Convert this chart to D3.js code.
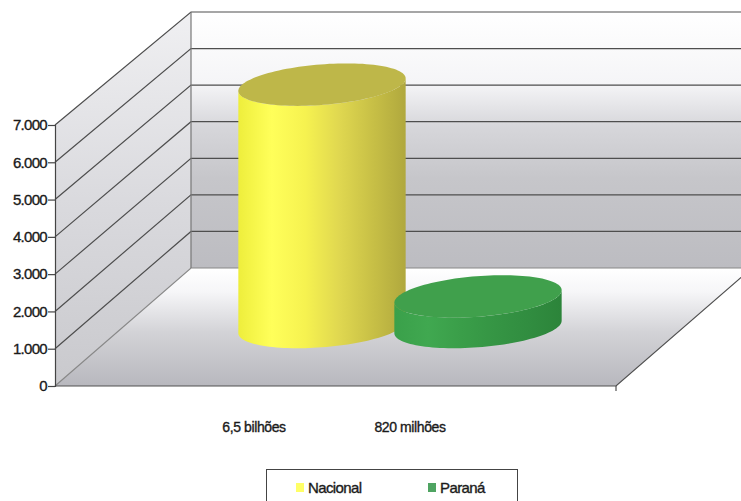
<!DOCTYPE html>
<html><head><meta charset="utf-8">
<script src="https://cdn.jsdelivr.net/npm/d3@7"></script>
<style>html,body{margin:0;padding:0;background:#fff;}svg{display:block;}text{font-family:"Liberation Sans",Arial,sans-serif;}</style>
</head><body>
<script>
// ---- data ----
const categories = ["6,5 bilhões", "820 milhões"];
const seriesNames = ["Nacional", "Paraná"];
const values = [6500, 820];
const yTickValues = [0, 1000, 2000, 3000, 4000, 5000, 6000, 7000];
const yTickLabels = ["0", "1.000", "2.000", "3.000", "4.000", "5.000", "6.000", "7.000"];

const W = 741, H = 501;
const svg = d3.select("body").append("svg").attr("width", W).attr("height", H);
const defs = svg.append("defs");

// geometry
const X0 = 55, X1 = 616, DX = 136, DY = -118;
const yF = d3.scaleLinear().domain([0, 7000]).range([386, 125]);
const yB = d3.scaleLinear().domain([0, 7000]).range([268, 12]);
const xP = d3.scalePoint().domain(categories).range([254, 410]);
const colorBody = [["#eeee3c","#ffff5a","#f6f250","#e0d850","#c8c046","#b0a83e"],
                   ["#3aa04a","#40a850","#3a9e49","#359544","#318d40","#2c843a"]];
const colorTop = ["#beb749", "#40a04c"];
const legendColors = ["#ffff66", "#4fa462"];

function grad(id, x2, y2, stops) {
  const g = defs.append("linearGradient").attr("id", id)
    .attr("x1", 0).attr("y1", 0).attr("x2", x2).attr("y2", y2);
  stops.forEach(s => g.append("stop").attr("offset", s[0]).attr("stop-color", s[1]));
}
grad("gBack", 0, 1, [[0, "#ffffff"], [0.28, "#f5f5f7"], [0.45, "#d6d6da"], [0.65, "#c6c6ca"], [1, "#bcbcc1"]]);
grad("gSide", 0, 1, [[0, "#f0f0f2"], [0.5, "#dadade"], [1, "#c9c9cd"]]);
grad("gFloor", 0, 1, [[0, "#ffffff"], [0.2, "#f6f6f8"], [0.55, "#d2d2d6"], [1, "#b8b8be"]]);
colorBody.forEach((c, i) => grad("gBody" + i, 1, 0, c.map((s, j) => [j / (c.length - 1), s])));

const poly = pts => "M" + pts.map(p => p.join(",")).join("L") + "Z";
const vMax = d3.max(yTickValues), vMin = 0;

// walls
svg.append("path").attr("d", poly([[X0 + DX, yB(vMax)], [X1 + DX, yB(vMax)], [X1 + DX, yB(vMin)], [X0 + DX, yB(vMin)]]))
  .attr("fill", "url(#gBack)");
svg.append("path").attr("d", poly([[X0, yF(vMin)], [X0, yF(vMax)], [X0 + DX, yB(vMax)], [X0 + DX, yB(vMin)]]))
  .attr("fill", "url(#gSide)");
svg.append("path").attr("d", poly([[X0, yF(vMin)], [X1, yF(vMin)], [X1 + DX, yB(vMin)], [X0 + DX, yB(vMin)]]))
  .attr("fill", "url(#gFloor)");

const lineC = "#4e4e4e";
// gridlines
const gl = svg.append("g").attr("stroke", lineC).attr("stroke-width", 1.2).attr("fill", "none");
yTickValues.forEach(v => {
  gl.append("path").attr("d", `M${X0},${yF(v)}L${X0 + DX},${yB(v)}L${X1 + DX},${yB(v)}`)
    .attr("stroke", v === 0 ? "#888" : lineC);
});
// frame lines
gl.append("path").attr("d", `M${X0 + DX},${yB(vMin)}L${X0 + DX},${yB(vMax)}`).attr("stroke", "#777");
gl.append("path").attr("d", `M${X0},${yF(vMin)}L${X1},${yF(vMin)}L${X1 + DX},${yB(vMin)}`).attr("stroke", "#505050");
gl.append("path").attr("d", `M${X1},${yF(vMin)}L${X1},${yF(vMin) + 5}`).attr("stroke", "#505050");

// left axis
const axis = svg.append("g").attr("transform", `translate(${X0},0)`)
  .call(d3.axisLeft(yF).tickValues(yTickValues).tickFormat((d, i) => yTickLabels[i]).tickSize(7).tickPadding(1));
axis.select(".domain").attr("stroke", "#444").attr("stroke-width", 1.2);
axis.selectAll(".tick line").attr("stroke", "#444").attr("stroke-width", 1.2);
axis.selectAll(".tick text").attr("fill", "#1a1a1a").attr("stroke", "#1a1a1a").attr("stroke-width", 0.35)
  .style("font-size", "15px").style("letter-spacing", "-0.7px")
  .style("font-family", '"Liberation Sans",Arial,sans-serif');

// cylinders
const f = 0.36;
const a = f / 2 * DX, b = f / 2 * (-DY), r = 80;
const t0 = Math.atan2(a, r);
function ept(cx, cy, t) { return [cx + r * Math.cos(t) + a * Math.sin(t), cy - b * Math.sin(t)]; }
const N = 60;
values.forEach((v, i) => {
  const cx = xP(categories[i]) + DX / 2;
  const cyB = yF(0) + DY / 2;
  const cyT = cyB - (yF(0) - yF(v));
  const pts = [];
  for (let k = 0; k <= N; k++) pts.push(ept(cx, cyB, t0 - Math.PI + Math.PI * k / N));
  for (let k = 0; k <= N; k++) pts.push(ept(cx, cyT, t0 - Math.PI * k / N));
  svg.append("path").attr("d", d3.line()(pts) + "Z").attr("fill", `url(#gBody${i})`);
  const tp = d3.range(0, 2 * Math.PI, Math.PI / 60).map(t => ept(cx, cyT, t));
  svg.append("path").attr("d", d3.line()(tp) + "Z").attr("fill", colorTop[i]);
});

// category labels
svg.append("g").selectAll("text").data(categories).join("text")
  .attr("x", d => xP(d)).attr("y", 432).attr("text-anchor", "middle")
  .attr("fill", "#1a1a1a").attr("stroke", "#1a1a1a").attr("stroke-width", 0.35)
  .style("font-size", "14px").style("letter-spacing", "-0.4px")
  .text(d => d);

// legend
const lg = svg.append("g");
lg.append("rect").attr("x", 266.5).attr("y", 469.5).attr("width", 251).attr("height", 40)
  .attr("fill", "#fff").attr("stroke", "#444").attr("stroke-width", 1);
const lx = d3.scalePoint().domain(seriesNames).range([296, 428]);
seriesNames.forEach((s, i) => {
  lg.append("rect").attr("x", lx(s)).attr("y", 483).attr("width", 8).attr("height", 9).attr("fill", legendColors[i]);
  lg.append("text").attr("x", lx(s) + 12).attr("y", 493).attr("fill", "#1a1a1a")
    .attr("stroke", "#1a1a1a").attr("stroke-width", 0.35)
    .style("font-size", "15px").style("letter-spacing", "-0.6px").text(s);
});
</script>
</body></html>
